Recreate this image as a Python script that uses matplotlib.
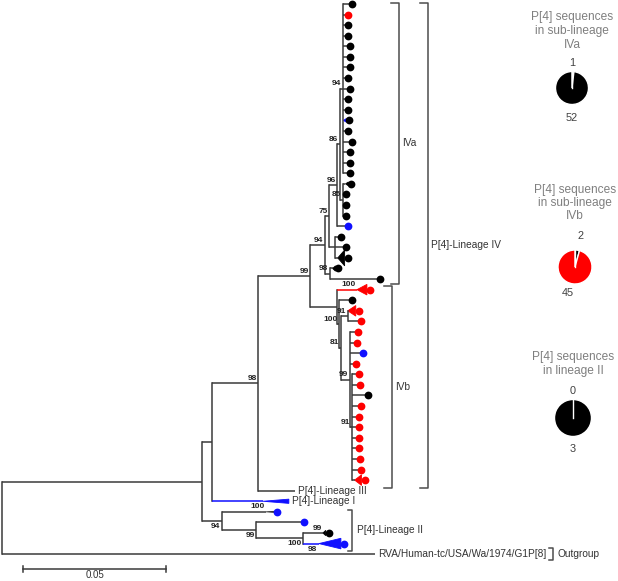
import matplotlib.pyplot as plt
from matplotlib.patches import Polygon

plt.rcParams['font.family'] = ['Liberation Sans', 'DejaVu Sans']

# tree in newick, branch lengths in substitutions/site, internal nodes named
TREE = (
    "((((((((((a0:0.0021,a1:0.0010,a2:0.0007,a3:0.0007,a4:0.0017,a5:0.0014,a6:0.0014,"
    "a7:0.0010,a8:0.0017,a9:0.0010,a10:0.0007,a11:0.0003,a12:0.0007,a13:0.0021,a14:0.0014,"
    "a15:0.0014,a16:0.0017)F94t:0.0010,(a17:0.0010,a18:0.0003,a19:0.0003,a20:0.0003)F85:0.0010)F86:0.0010,"
    "a21:0.0028)F96:0.0028,(a22:0.0010,a23:0.0028,a24:0.0010)Flow:0.0021)F75:0.0014,"
    "(a25:0.0010,a26:0.0164)F98:0.0017)F:0.0052,"
    "(b0:0.0070,(b1:0.0035,((b2:0.0,b3:0.0035)J:0.0024,(b4:0.0017,b5:0.0014,b6:0.0035,b7:0.0010,"
    "(b8:0.0014,b9:0.0017,b10:0.0045,b11:0.0021,b12:0.0014,b13:0.0014,b14:0.0014,b15:0.0014,"
    "b16:0.0017,b17:0.0021,b18:0.0010)L:0.0007)K:0.0031)I:0.0007)H:0.0007)G:0.0094)E:0.0182,"
    "LinIII:0.0129)D:0.0161,LinI:0.0178)B:0.0035,"
    "(c0:0.0154,(c1:0.0157,(c2:0.0070,c3:0.0056)C3:0.0164)C2:0.0119)C:0.0070)A:0.0699,"
    "Wa:0.1304)R;"
)

# bootstrap support
support = {'D': 98, 'E': 99, 'F': 94, 'F75': 75, 'F96': 96, 'F86': 86, 'F94t': 94, 'F85': 85,
           'F98': 98, 'b0': 100, 'H': 100, 'I': 81, 'J': 91, 'K': 99, 'L': 91,
           'C': 94, 'c0': 100, 'C2': 99, 'C3': 100, 'c2': 99, 'c3': 98}
support_below = ['C', 'C2', 'C3', 'c3']

RED = '#ff0000'
BLUE = '#1010ff'
BLACK = '#000000'

# collapsed clades: (length, height in leaf rows, colour)
collapsed = {'a11': (0.0010, 0.35, BLUE), 'a17': (0.0010, 0.35, BLACK), 'a24': (0.0024, 1.5, BLACK),
             'a25': (0.0010, 0.5, BLACK), 'b0': (0.0035, 1.0, RED), 'b2': (0.0028, 1.0, RED),
             'b18': (0.0024, 1.0, RED), 'LinI': (0.0091, 0.4, BLUE), 'c0': (0.0028, 0.1, '#333333'),
             'c2': (0.0010, 0.5, BLACK), 'c3': (0.0077, 1.0, BLUE)}
branch_color = {'b0': RED, 'LinI': BLUE, 'c3': BLUE}

red_tips = ['a1', 'b0', 'b2', 'b3', 'b4', 'b5', 'b7', 'b8', 'b9', 'b11', 'b12', 'b13', 'b14',
            'b15', 'b16', 'b17', 'b18']
blue_tips = ['a21', 'b6', 'c0', 'c1', 'c3']
no_tip = ['LinIII', 'LinI', 'Wa']
leaf_text = {'LinIII': 'P[4]-Lineage III', 'LinI': 'P[4]-Lineage I',
             'Wa': 'RVA/Human-tc/USA/Wa/1974/G1P[8]'}

# pie panels
pie_titles = [['P[4] sequences', 'in sub-lineage', 'IVa'],
              ['P[4] sequences', 'in sub-lineage', 'IVb'],
              ['P[4] sequences', 'in lineage II']]
pie_values = [[1, 52], [2, 45], [0, 3]]
pie_colors = [['white', 'black'], ['black', 'red'], ['white', 'black']]


def parse(s):
    pos = 0

    def node():
        nonlocal pos
        kids = []
        if s[pos] == '(':
            pos += 1
            while True:
                kids.append(node())
                if s[pos] == ',':
                    pos += 1
                else:
                    break
            pos += 1
        start = pos
        while s[pos] not in ':,);':
            pos += 1
        name = s[start:pos]
        bl = 0.0
        if s[pos] == ':':
            pos += 1
            start = pos
            while s[pos] not in ',);':
                pos += 1
            bl = float(s[start:pos])
        return {'name': name, 'bl': bl, 'kids': kids}

    return node()


tree = parse(TREE)
leaves = {}
counter = [0]


def layout(n, x0):
    n['x'] = x0 + n['bl']
    if n['kids']:
        for k in n['kids']:
            layout(k, n['x'])
        n['y'] = (n['kids'][0]['y'] + n['kids'][-1]['y']) / 2
    else:
        n['y'] = counter[0]
        counter[0] += 1
        leaves[n['name']] = n


layout(tree, 0.0)

W, H = 618, 581
PXX = 2860.0   # pixels per unit of distance
PXY = 10.58    # pixels per leaf row
fig = plt.figure(figsize=(W / 100, H / 100), dpi=100)
ax = fig.add_axes([0, 0, 1, 1])
ax.set_xlim(-2 / PXX, (W - 2) / PXX)
ax.set_ylim((H - 4) / PXY, -4 / PXY)
ax.axis('off')

LINE = '#3a3a3a'
LW = 1.1
dx = 1 / PXX  # one pixel in x


def draw(n, px):
    c = branch_color.get(n['name'], LINE)
    ax.plot([px, n['x']], [n['y'], n['y']], color=c, lw=LW, solid_capstyle='butt')
    if n['kids']:
        ax.plot([n['x'], n['x']], [n['kids'][0]['y'], n['kids'][-1]['y']], color=LINE, lw=LW,
                solid_capstyle='projecting')
        for k in n['kids']:
            draw(k, n['x'])
        return
    end = n['x']
    if n['name'] in collapsed:
        ln, h, col = collapsed[n['name']]
        ax.add_patch(Polygon([(end, n['y']), (end + ln, n['y'] - h / 2), (end + ln, n['y'] + h / 2)],
                             closed=True, fc=col, ec=col, lw=0.6))
        end += ln
    if n['name'] not in no_tip:
        col = RED if n['name'] in red_tips else BLUE if n['name'] in blue_tips else BLACK
        ax.plot(end + 3 * dx, n['y'], 'o', color=col, ms=5.6, mew=0)
    if n['name'] in leaf_text:
        ax.text(end + 3 * dx, n['y'], leaf_text[n['name']], fontsize=7.3, color='#333333',
                va='center', ha='left')


draw(tree, 0.0)


def label_nodes(n):
    if n['name'] in support:
        below = n['name'] in support_below
        ax.annotate(str(support[n['name']]), (n['x'], n['y']), xytext=(-1, -1.5 if below else 1),
                    textcoords='offset points', ha='right', va='top' if below else 'bottom',
                    fontsize=6, fontweight='bold', color='#222222')
    for k in n['kids']:
        label_nodes(k)


label_nodes(tree)


def bracket(xpx, first, last, text, tick=8, pad_top=0.15, pad_bot=0.5, tx=3):
    x = (xpx - 2) / PXX
    y0 = leaves[first]['y'] - pad_top
    y1 = leaves[last]['y'] + pad_bot
    ax.plot([x - tick * dx, x, x, x - tick * dx], [y0, y0, y1, y1], color='#4d4d4d', lw=1.1)
    ax.text(x + tx * dx, (y0 + y1) / 2, text, fontsize=7.3, color='#333333', va='center', ha='left')


bracket(399, 'a0', 'a26', 'IVa', pad_top=0.1, pad_bot=0.45)
bracket(392, 'b0', 'b18', 'IVb', pad_top=0.35, pad_bot=0.7)
bracket(428, 'a0', 'b18', 'P[4]-Lineage IV', pad_top=0.1, pad_bot=0.7)
bracket(352, 'c0', 'c3', 'P[4]-Lineage II', tick=4, pad_top=0.2, pad_bot=0.7, tx=5)
bracket(553, 'Wa', 'Wa', 'Outgroup', tick=4, pad_top=0.55, pad_bot=0.55, tx=5)

# scale bar
sx = 21 / PXX
sy = (569 - 4) / PXY
ax.plot([sx, sx + 0.05], [sy, sy], color='#3a3a3a', lw=1.1)
for xx in (sx, sx + 0.05):
    ax.plot([xx, xx], [sy - 0.25, sy + 0.25], color='#3a3a3a', lw=1.1)
ax.text(sx + 0.025, (575.5 - 4) / PXY, '0.05', fontsize=7, color='#333333', ha='center',
        va='center')

# pies on the right
pie_layout = [  # cx, title lines y, number above (x, y), pie cy, radius, number below (x, y)
    (572, [17, 31, 45], (572, 63), 88, 16.5, (572, 118)),
    (575, [190, 203, 216], (581, 236), 267, 17, (568, 293)),
    (573, [357, 371], (573, 391), 418, 18.5, (573, 449)),
]
for (cx, tys, above, cy, r, below), titles, vals, cols in zip(pie_layout, pie_titles, pie_values,
                                                              pie_colors):
    for t, ty in zip(titles, tys):
        fig.text(cx / W, 1 - ty / H, t, fontsize=8.6, color='#7f7f7f', ha='center', va='center')
    fig.text(above[0] / W, 1 - above[1] / H, str(vals[0]), fontsize=7.8, color='#404040',
             ha='center', va='center')
    fig.text(below[0] / W, 1 - below[1] / H, str(vals[1]), fontsize=7.8, color='#404040',
             ha='center', va='center')
    pax = fig.add_axes([(cx - r) / W, 1 - (cy + r) / H, 2 * r / W, 2 * r / H])
    pax.pie(vals, colors=cols, startangle=90, counterclock=False,
            wedgeprops=dict(edgecolor='white', linewidth=1.0))
    # the full slice keeps its white edge at twelve o'clock
    pax.plot([0, 0], [0, 1], color='white', lw=1.0)
    pax.set_xlim(-1, 1)
    pax.set_ylim(-1, 1)

fig.savefig('out.png', dpi=100)
